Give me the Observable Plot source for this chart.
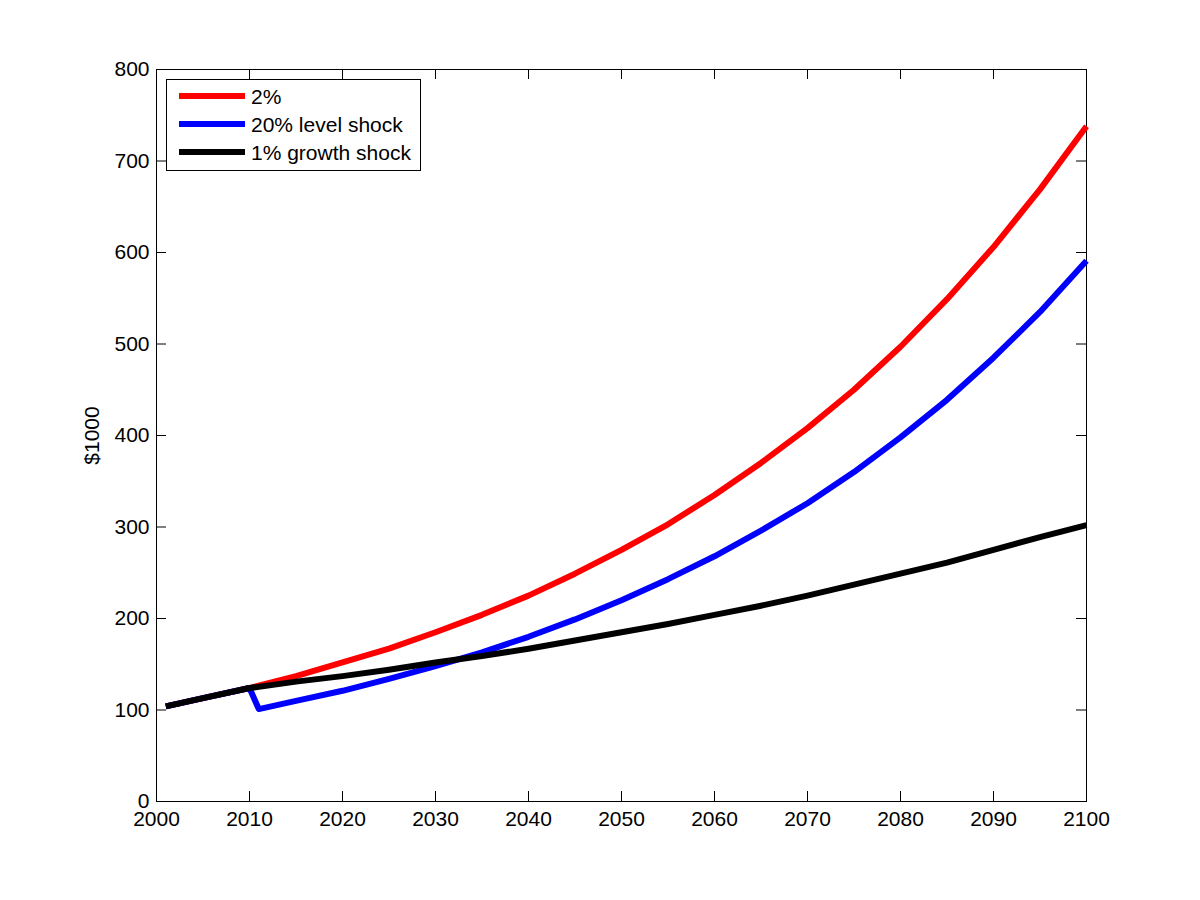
<!DOCTYPE html>
<html>
<head>
<meta charset="utf-8">
<script src="https://cdn.jsdelivr.net/npm/d3@7"></script>
<script src="https://cdn.jsdelivr.net/npm/@observablehq/plot@0.6"></script>
<style>
  html, body { margin: 0; padding: 0; background: #fff; }
  #chart { width: 1200px; height: 900px; }
  svg { font-family: "Liberation Sans", Arial, sans-serif; }
</style>
</head>
<body>
<div id="chart"></div>
<script>
// ---- data ----
const seriesNames = ["2%", "20% level shock", "1% growth shock"];
const seriesColors = ["#ff0000", "#0000ff", "#000000"];

const years = [2001, 2005, 2010, 2015, 2020, 2025, 2030, 2035, 2040, 2045, 2050,
               2055, 2060, 2065, 2070, 2075, 2080, 2085, 2090, 2095, 2100];
const red   = [104, 113, 124, 137, 152, 167, 185, 204, 225, 249, 275,
               303, 335, 370, 408, 450, 497, 549, 606, 669, 738];
const black = [104, 113, 124, 131, 137, 144, 152, 159, 167, 176, 185,
               194, 204, 214, 225, 237, 249, 261, 275, 289, 302];

const yearsBlue = [2001, 2005, 2010, 2011, 2015, 2020, 2025, 2030, 2035, 2040, 2045, 2050,
                   2055, 2060, 2065, 2070, 2075, 2080, 2085, 2090, 2095, 2100];
const blue  = [104, 113, 124, 101, 110, 121, 134, 148, 163, 180, 199, 220,
               243, 268, 296, 326, 360, 398, 439, 485, 535, 591];

const xTicks = [2000, 2010, 2020, 2030, 2040, 2050, 2060, 2070, 2080, 2090, 2100];
const yTicks = [0, 100, 200, 300, 400, 500, 600, 700, 800];
const yLabel = "$1000";

// ---- tidy table ----
const rows = [];
years.forEach((yr, i) => rows.push({year: yr, value: red[i], series: seriesNames[0]}));
yearsBlue.forEach((yr, i) => rows.push({year: yr, value: blue[i], series: seriesNames[1]}));
years.forEach((yr, i) => rows.push({year: yr, value: black[i], series: seriesNames[2]}));

const W = 1200, H = 900;
const mL = 156, mR = 114, mT = 69, mB = 99;
const innerW = W - mL - mR, innerH = H - mT - mB;
const tickLen = 10;
const FS = 21;

const plot = Plot.plot({
  width: W,
  height: H,
  marginLeft: mL,
  marginRight: mR,
  marginTop: mT,
  marginBottom: mB,
  style: {fontSize: FS + "px", fontFamily: "'Liberation Sans', Arial, sans-serif", color: "#000", background: "#fff"},
  x: {domain: [2000, 2100]},
  y: {domain: [0, 800]},
  marks: [
    Plot.frame({stroke: "#000", strokeWidth: 1}),
    // inward ticks on all four sides
    Plot.tickX(xTicks, {x: d => d, insetTop: innerH - tickLen, stroke: "#000"}),
    Plot.tickX(xTicks, {x: d => d, insetBottom: innerH - tickLen, stroke: "#000"}),
    Plot.tickY(yTicks, {y: d => d, insetRight: innerW - tickLen, stroke: "#000"}),
    Plot.tickY(yTicks, {y: d => d, insetLeft: innerW - tickLen, stroke: "#000"}),
    Plot.axisX({ticks: xTicks, tickSize: 0, tickPadding: 10, tickFormat: d => String(d), label: null, fontSize: FS}),
    Plot.axisY({ticks: yTicks, tickSize: 0, tickPadding: 7, tickFormat: d => String(d),
                label: yLabel, labelAnchor: "center", labelArrow: "none", labelOffset: 72, fontSize: FS}),
    Plot.line(rows, {
      x: "year", y: "value", z: "series",
      stroke: d => seriesColors[seriesNames.indexOf(d.series)],
      strokeWidth: 6, strokeLinejoin: "round", strokeLinecap: "butt"
    })
  ]
});

document.getElementById("chart").appendChild(plot);

// ---- legend inside the plot area (top-left) ----
const svg = d3.select(plot);
const lg = svg.append("g").attr("class", "legend").attr("text-anchor", "start");
lg.append("rect")
  .attr("x", 166.5).attr("y", 79.5).attr("width", 254).attr("height", 91)
  .attr("fill", "#fff").attr("stroke", "#000").attr("stroke-width", 1);
seriesNames.forEach((name, i) => {
  const yy = 96 + i * 28;
  lg.append("line")
    .attr("x1", 179).attr("x2", 245).attr("y1", yy).attr("y2", yy)
    .attr("stroke", seriesColors[i]).attr("stroke-width", 6);
  lg.append("text")
    .attr("x", 251).attr("y", yy).attr("dy", "0.36em")
    .attr("text-anchor", "start")
    .attr("font-size", FS).attr("fill", "#000")
    .text(name);
});
</script>
</body>
</html>
